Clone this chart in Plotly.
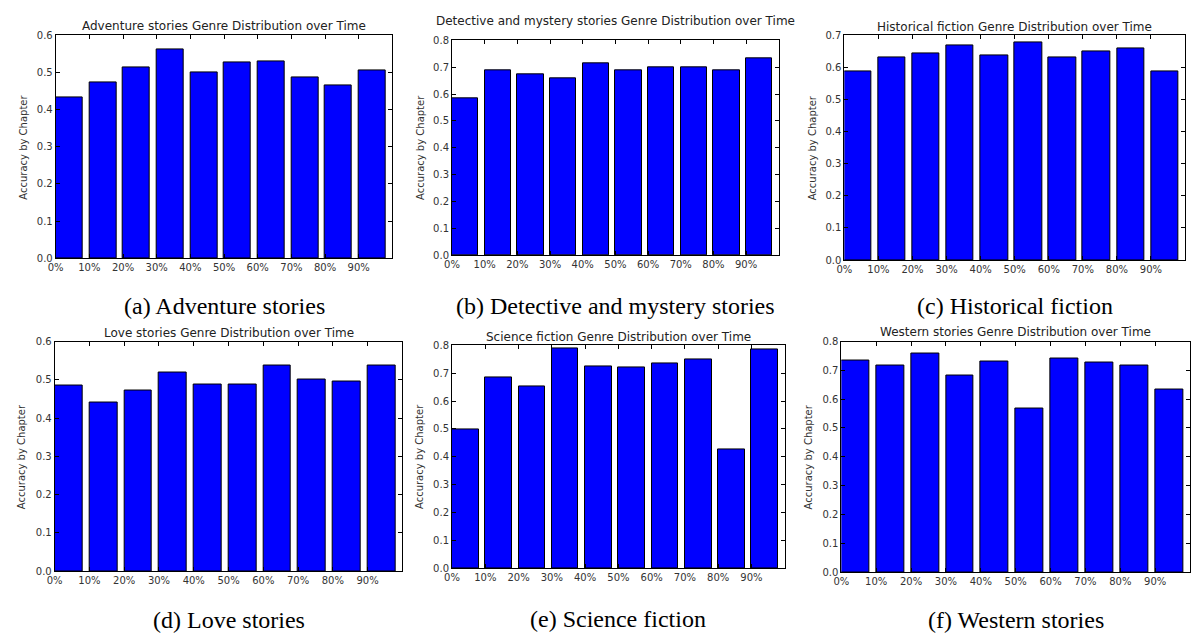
import plotly.graph_objects as go

W, H = 1192, 633

chapter_pos = [0, 10, 20, 30, 40, 50, 60, 70, 80, 90]
tick_labels = ["0%", "10%", "20%", "30%", "40%", "50%", "60%", "70%", "80%", "90%"]

adventure = [0.432, 0.474, 0.514, 0.562, 0.500, 0.527, 0.531, 0.487, 0.466, 0.507]
detective = [0.585, 0.689, 0.675, 0.658, 0.715, 0.689, 0.698, 0.700, 0.689, 0.733]
historical = [0.588, 0.632, 0.644, 0.669, 0.639, 0.679, 0.630, 0.651, 0.660, 0.588]
love = [0.485, 0.440, 0.472, 0.518, 0.488, 0.488, 0.538, 0.501, 0.496, 0.538]
scifi = [0.500, 0.684, 0.654, 0.791, 0.724, 0.720, 0.734, 0.748, 0.426, 0.787]
western = [0.735, 0.717, 0.758, 0.682, 0.729, 0.567, 0.740, 0.726, 0.717, 0.633]

genres = ["Adventure stories", "Detective and mystery stories", "Historical fiction",
          "Love stories", "Science fiction", "Western stories"]
series = [adventure, detective, historical, love, scifi, western]
captions = ["(a) Adventure stories", "(b) Detective and mystery stories", "(c) Historical fiction",
            "(d) Love stories", "(e) Science fiction", "(f) Western stories"]
y_max = [0.6, 0.8, 0.7, 0.6, 0.8, 0.8]

# layout (pixel boxes): left, right, top, bottom
boxes = [(48, 387, 30, 257), (447, 776, 35, 254), (842, 1185, 30, 259),
         (47, 397, 342, 576), (447, 782, 346, 573), (839, 1190, 342, 577)]
title_y = [20, 15, 21, 333, 337, 332]
ylab_x = [16, 416, 810, 13, 415, 806]
caption_y = [306, 306, 306, 626, 625, 626]

fig = go.Figure()
annotations = []
tickfont = dict(family="DejaVu Sans", size=10, color="#333333")

for i in range(6):
    l, r, t, b = boxes[i]
    xa = "x" if i == 0 else f"x{i+1}"
    ya = "y" if i == 0 else f"y{i+1}"
    fig.add_trace(go.Bar(
        x=chapter_pos, y=series[i], width=8, offset=0,
        marker=dict(color="#0000ff", line=dict(color="#000000", width=1)),
        xaxis=xa, yaxis=ya, showlegend=False,
    ))
    key = "" if i == 0 else str(i + 1)
    fig.layout["xaxis" + key] = dict(
        domain=[l / W, r / W], anchor=ya, range=[0, 100],
        tickvals=chapter_pos, ticktext=tick_labels,
        ticks="inside", ticklen=4, tickcolor="#000", mirror="ticks",
        showline=True, linecolor="#000", linewidth=1, showgrid=False,
        zeroline=False, tickfont=tickfont, fixedrange=True,
    )
    fig.layout["yaxis" + key] = dict(
        domain=[1 - b / H, 1 - t / H], anchor=xa, range=[0, y_max[i]],
        dtick=0.1, tickformat=".1f",
        ticks="inside", ticklen=4, tickcolor="#000", mirror="ticks",
        showline=True, linecolor="#000", linewidth=1, showgrid=False,
        zeroline=False, tickfont=tickfont, fixedrange=True,
    )
    annotations.append(dict(
        text=f"{genres[i]} Genre Distribution over Time",
        x=(l + r) / 2 / W, y=1 - title_y[i] / H, xref="paper", yref="paper",
        xanchor="center", yanchor="middle", showarrow=False,
        font=dict(family="DejaVu Sans", size=12, color="#222222"),
    ))
    annotations.append(dict(
        text="Accuracy by Chapter", textangle=-90,
        x=ylab_x[i] / W, y=1 - (t + b) / 2 / H, xref="paper", yref="paper",
        xanchor="center", yanchor="middle", showarrow=False,
        font=dict(family="DejaVu Sans", size=10, color="#333333"),
    ))
    annotations.append(dict(
        text=captions[i],
        x=(l + r) / 2 / W, y=1 - caption_y[i] / H, xref="paper", yref="paper",
        xanchor="center", yanchor="middle", showarrow=False,
        font=dict(family="Liberation Serif, Times New Roman, serif", size=24, color="#000000"),
    ))

fig.update_layout(
    width=W, height=H, margin=dict(l=0, r=0, t=0, b=0),
    paper_bgcolor="white", plot_bgcolor="white",
    bargap=0, annotations=annotations,
)

fig.write_html(
    "out.html",
    config={"displayModeBar": False},
    post_script="document.body.style.margin='0';document.body.style.overflow='hidden';",
)
